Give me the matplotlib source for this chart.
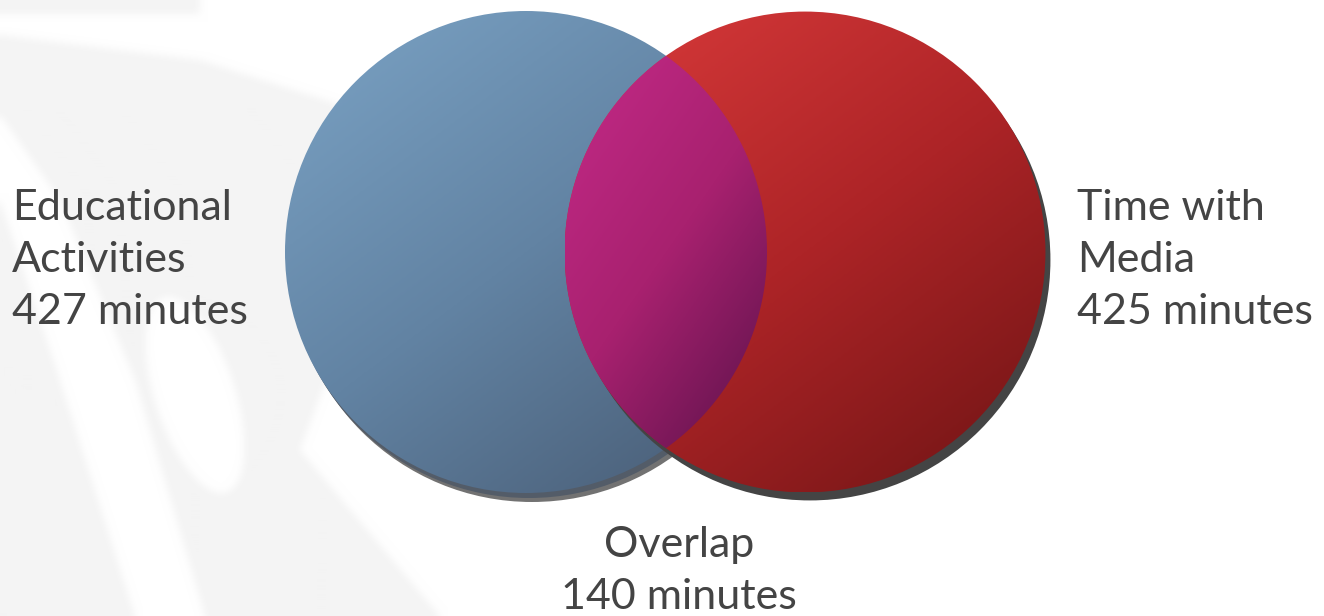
import numpy as np
import matplotlib
matplotlib.use("Agg")
import matplotlib.pyplot as plt
from matplotlib.patches import Circle, Polygon
from matplotlib.path import Path
from matplotlib.colors import LinearSegmentedColormap

# ---- data ----
set_labels = ["Educational\nActivities", "Time with\nMedia"]
set_minutes = [427, 425]
overlap_label = "Overlap"
overlap_minutes = 140

# ---- layout (pixel space) ----
W, H = 1324, 616
centers = [(526, 252), (805, 252)]
radius_scale = 241 / np.sqrt(427)
radii = [radius_scale * np.sqrt(v) for v in set_minutes]

fig = plt.figure(figsize=(W / 100, H / 100), dpi=100)
ax = fig.add_axes([0, 0, 1, 1])
ax.set_xlim(0, W)
ax.set_ylim(H, 0)
ax.set_aspect("equal")
ax.axis("off")
fig.patch.set_facecolor("white")


# ---- faint, soft background emblem ----
def box_blur(img, r):
    k = 2 * r + 1
    for axis in (0, 1):
        pad = [(0, 0), (0, 0)]
        pad[axis] = (r + 1, r)
        p = np.pad(img, pad, mode="edge")
        c = np.cumsum(p, axis=axis)
        if axis == 0:
            img = (c[k:, :] - c[:-k, :]) / k
        else:
            img = (c[:, k:] - c[:, :-k]) / k
    return img


ex, ey = np.meshgrid(np.arange(W) + 0.5, np.arange(H) + 0.5)
grid = np.column_stack([ex.ravel(), ey.ravel()])
gray_zone = Path([(0, 35), (200, 60), (420, 130), (300, 450), (440, 616), (0, 616)])
band = Path([(0, 115), (0, 200), (60, 380), (135, 616), (205, 616), (135, 380), (60, 200)])
mask = gray_zone.contains_points(grid) & ~band.contains_points(grid)
# oval hole
cx, cy, a_, b_, th = 195, 395, 40, 102, np.deg2rad(-18)
u = (ex - cx) * np.cos(th) + (ey - cy) * np.sin(th)
v = -(ex - cx) * np.sin(th) + (ey - cy) * np.cos(th)
hole = (u / a_) ** 2 + (v / b_) ** 2 <= 1
m = mask.reshape(H, W) & ~hole
m = m.astype(float)
# top-left corner sliver
m[(ey < 14) & (ex < 200)] = 1.0
m = box_blur(box_blur(m, 4), 4)
shade = 1.0 - m * (11 / 255)
ax.imshow(np.dstack([shade, shade, shade]), extent=(0, W, H, 0), origin="upper",
          interpolation="bilinear", zorder=0)

font = ["Lato", "DejaVu Sans"]


def gradient_fill(clip_patch, c0, c1, c2, z):
    cmap = LinearSegmentedColormap.from_list("g", [c0, c1, c2])
    bb = clip_patch.get_path().transformed(clip_patch.get_patch_transform()).get_extents()
    x0, y0, x1, y1 = bb.x0, bb.y0, bb.x1, bb.y1
    n = 300
    xx, yy = np.meshgrid(np.linspace(0, 1, n), np.linspace(0, 1, n))
    g = (xx * 0.6 + yy * 0.8) / 1.4
    im = ax.imshow(g, cmap=cmap, extent=(x0, x1, y1, y0), origin="upper",
                   interpolation="bilinear", zorder=z)
    ax.add_patch(clip_patch)
    clip_patch.set_visible(False)
    im.set_clip_path(clip_patch)
    return im


(bx, by), (rx, ry) = centers
rb, rr = radii

# shadows and discs
ax.add_patch(Circle((bx + 6, by + 9), rb, facecolor="#727272", edgecolor="none", zorder=1))
ax.add_patch(Circle((bx + 3, by + 5), rb, facecolor="#535c68", edgecolor="none", zorder=1.5))
gradient_fill(Circle((bx, by), rb, transform=ax.transData), "#7ba3c5", "#6283a3", "#475a72", 2)

ax.add_patch(Circle((rx + 5, ry + 8), rr, facecolor="#444444", edgecolor="none", zorder=3))
gradient_fill(Circle((rx, ry), rr, transform=ax.transData), "#da3b3b", "#ad2427", "#6e1414", 4)

# overlap lens
d = rx - bx
a = (d**2 + rb**2 - rr**2) / (2 * d)
h = np.sqrt(rb**2 - a**2)
ang_b = np.arctan2(h, a)
ang_r = np.arctan2(h, d - a)
tb = np.linspace(-ang_b, ang_b, 200)
tr = np.linspace(np.pi - ang_r, np.pi + ang_r, 200)
pts = np.vstack([
    np.column_stack([bx + rb * np.cos(tb), by + rb * np.sin(tb)]),
    np.column_stack([rx + rr * np.cos(tr), ry + rr * np.sin(tr)]),
])
gradient_fill(Polygon(pts, closed=True, transform=ax.transData), "#c42a88", "#a8216f", "#5a124a", 5)

# labels
tc = "#444444"
fs = 31
ls = 1.44
ax.text(12, 260, f"{set_labels[0]}\n{set_minutes[0]} minutes", ha="left", va="center",
        fontsize=fs, color=tc, family=font, linespacing=ls, zorder=6)
ax.text(1077, 260, f"{set_labels[1]}\n{set_minutes[1]} minutes", ha="left", va="center",
        fontsize=fs, color=tc, family=font, linespacing=ls, zorder=6)
ax.text(679, 571, f"{overlap_label}\n{overlap_minutes} minutes", ha="center", va="center",
        fontsize=fs, color=tc, family=font, linespacing=ls, zorder=6)

fig.savefig("out.png", dpi=100, facecolor="white")
